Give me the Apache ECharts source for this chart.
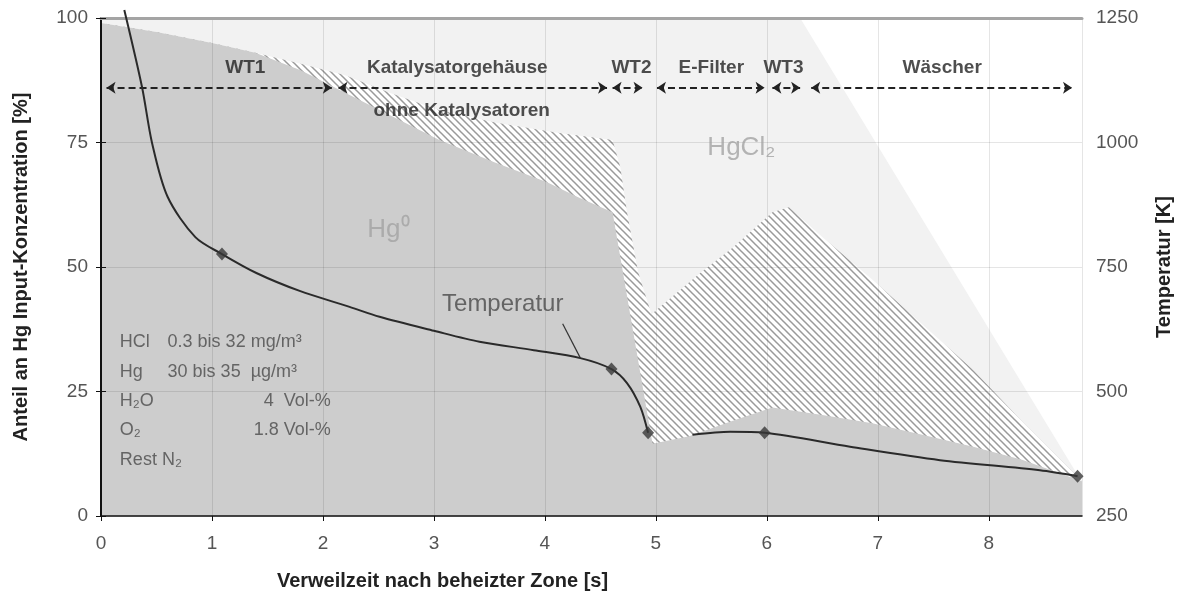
<!DOCTYPE html>
<html>
<head>
<meta charset="utf-8">
<script src="https://cdn.jsdelivr.net/npm/echarts@6/dist/echarts.min.js"></script>
<style>
  html, body { margin: 0; padding: 0; background: #ffffff; }
  #chart { width: 1185px; height: 606px; }
</style>
</head>
<body>
<div id="chart"></div>
<script>
// Mercury speciation along the flue gas path: residence time [s] vs. share of Hg input [%]
const hg0Top = [[0, 99], [0.5, 97.2], [1.0, 95], [1.39, 93], [1.8, 89.5], [2.2, 85], [2.6, 80.5],
  [3.05, 75.5], [3.55, 71], [4.02, 67], [4.3, 64], [4.61, 61], [4.97, 14.5], [5.3, 16], [5.7, 19.2],
  [6.05, 21.8], [6.5, 20.3], [6.95, 18.6], [7.4, 16.3], [7.86, 13.9], [8.3, 11.3], [8.84, 7]];
const hatchTop = [[0, 99], [0.5, 97.2], [1.0, 95], [1.39, 93], [1.8, 90.8], [2.2, 88.5], [2.6, 85],
  [3.05, 81.5], [3.55, 79], [4.1, 77], [4.61, 75.5], [4.68, 70], [4.74, 61], [4.84, 49], [4.96, 40.5],
  [5.4, 48.8], [5.7, 54], [6.05, 61], [6.2, 62], [6.5, 56], [6.95, 47.5], [7.4, 38.5], [7.86, 29.3],
  [8.3, 19], [8.84, 7]];
const hgcl2Top = [[0, 100], [6.3, 100], [8.78, 9], [8.84, 7]];

// Gas temperature [K]; '-' marks the interruption between WT2 and E-Filter
const tempCurve = [[0.21, 1266], [0.37, 1111], [0.46, 999], [0.6, 891], [0.85, 810], [1.09, 776],
  [1.4, 738], [1.79, 702], [2.24, 670], [2.51, 650], [3.0, 622], [3.41, 600], [3.9, 583], [4.32, 567],
  [4.6, 545], [4.74, 517], [4.86, 469], [4.93, 417], [5.1, '-'], [5.33, 413], [5.67, 419], [5.98, 417],
  [6.75, 389], [7.56, 362], [8.46, 342], [8.8, 330]];
const tempMarks = [[1.09, 776], [4.6, 545], [4.93, 417], [5.98, 417], [8.8, 330]];
const tempPointer = [[4.16, 636], [4.32, 567]];

// Plant sections along the residence time axis
const zoneNames = ['WT1', 'Katalysatorgehäuse', 'WT2', 'E-Filter', 'WT3', 'Wäscher'];
const zoneFrom = [0.05, 2.14, 4.61, 5.01, 6.05, 6.4];
const zoneTo = [2.08, 4.56, 4.88, 5.98, 6.3, 8.75];
const zoneLabelX = [1.3, 3.21, 4.78, 5.5, 6.15, 7.58];
const zoneNote = 'ohne Katalysatoren';

// Test gas composition
const infoNames = ['HCl', 'Hg', 'H₂O', 'O₂', 'Rest N₂'];
const infoValues = ['0.3 bis 32 mg/m³', '30 bis 35  µg/m³', '4  Vol-%', '1.8 Vol-%', ''];

const xTicks = [0, 1, 2, 3, 4, 5, 6, 7, 8];
const leftTicks = [0, 25, 50, 75, 100];
const rightTicks = [250, 500, 750, 1000, 1250];

const FONT = '"Liberation Sans", Arial, sans-serif';
const ARROW_Y = 86;

// Diagonal hatching used for the band between Hg0 and HgCl2
function hatchPattern() {
  const s = 7;
  const c = document.createElement('canvas');
  c.width = s; c.height = s;
  const g = c.getContext('2d');
  g.fillStyle = '#ffffff';
  g.fillRect(0, 0, s, s);
  g.strokeStyle = '#9a9a9a';
  g.lineWidth = 1.5;
  g.beginPath();
  g.moveTo(-1, -1); g.lineTo(s + 1, s + 1);
  g.moveTo(-1, s - 1); g.lineTo(1, s + 1);
  g.moveTo(s - 1, -1); g.lineTo(s + 1, 1);
  g.stroke();
  return c;
}

function textItem(x, y, text, style, position) {
  return {
    value: [x, y],
    label: Object.assign({
      show: true, formatter: text, position: position || 'inside', distance: 0,
      fontFamily: FONT
    }, style)
  };
}

const annotations = [];
zoneNames.forEach((n, i) => {
  annotations.push(textItem(zoneLabelX[i], 90, n, { fontSize: 19, fontWeight: 'bold', color: '#222' }));
});
annotations.push(textItem(3.25, 81.3, zoneNote, { fontSize: 19, fontWeight: 'bold', color: '#222' }));
annotations.push(textItem(2.59, 57.4, 'Hg⁰', { fontSize: 26, color: '#a3a3a3' }));
annotations.push(textItem(5.77, 73.9, 'HgCl₂', { fontSize: 26, color: '#a3a3a3' }));
annotations.push(textItem(3.62, 42.4, 'Temperatur', { fontSize: 24, color: '#4a4a4a' }));
const infoStyle = { fontSize: 18, color: '#4a4a4a' };
infoNames.forEach((n, i) => {
  const y = 34.9 - i * 5.9;
  annotations.push(textItem(0.17, y, n, infoStyle, 'right'));
  if (!infoValues[i]) return;
  if (i < 2) annotations.push(textItem(0.6, y, infoValues[i], infoStyle, 'right'));
  else annotations.push(textItem(2.07, y, infoValues[i], infoStyle, 'left'));
});

const axisText = { color: '#555', fontSize: 19, fontFamily: FONT };
const nameText = { color: '#222', fontSize: 20, fontWeight: 'bold', fontFamily: FONT };
const gridLine = { show: true, lineStyle: { color: 'rgba(0,0,0,0.10)', width: 1 } };

const chart = echarts.init(document.getElementById('chart'));
chart.setOption({
  animation: false,
  backgroundColor: '#ffffff',
  grid: { left: 101, right: 103, top: 18, bottom: 90 },
  xAxis: [{
    type: 'value', min: 0, max: 8.84, interval: 1, z: 3,
    axisLine: { lineStyle: { color: '#111', width: 1.5 } },
    axisTick: { length: 5, lineStyle: { color: '#111' } },
    axisLabel: Object.assign({ margin: 18, showMaxLabel: false,
      formatter: v => (xTicks.indexOf(v) >= 0 ? String(v) : '') }, axisText),
    splitLine: gridLine,
    name: 'Verweilzeit nach beheizter Zone [s]', nameLocation: 'middle', nameGap: 55,
    nameTextStyle: Object.assign({ padding: [0, 298, 0, 0] }, nameText)
  }, {
    type: 'value', position: 'top', min: 0, max: 8.84, z: 3,
    axisLine: { show: true, lineStyle: { color: '#a4a4a4', width: 3 } },
    axisTick: { show: false }, axisLabel: { show: false }, splitLine: { show: false }
  }],
  yAxis: [{
    type: 'value', min: 0, max: 100, interval: 25, z: 3,
    axisLine: { show: true, lineStyle: { color: '#111', width: 1.5 } },
    axisTick: { show: true, length: 5, lineStyle: { color: '#111' } },
    axisLabel: Object.assign({ margin: 13,
      formatter: v => (leftTicks.indexOf(v) >= 0 ? String(v) : '') }, axisText),
    splitLine: gridLine,
    name: 'Anteil an Hg Input-Konzentration [%]', nameLocation: 'middle', nameGap: 70,
    nameTextStyle: nameText
  }, {
    type: 'value', min: 250, max: 1250, interval: 250, position: 'right', z: 3,
    axisLine: { show: true, lineStyle: { color: '#111', width: 2 } },
    axisTick: { show: true, length: 5, lineStyle: { color: '#111' } },
    axisLabel: Object.assign({ margin: 14,
      formatter: v => (rightTicks.indexOf(v) >= 0 ? String(v) : '') }, axisText),
    splitLine: { show: false },
    name: 'Temperatur [K]', nameLocation: 'middle', nameGap: 72,
    nameTextStyle: nameText
  }],
  series: [{
    name: 'HgCl2', type: 'line', data: hgcl2Top, symbol: 'none', silent: true, z: 1,
    lineStyle: { width: 0 }, areaStyle: { color: '#f2f2f2', opacity: 1 }
  }, {
    name: 'Hg ads', type: 'line', data: hatchTop, symbol: 'none', silent: true, z: 1,
    lineStyle: { width: 0 }, areaStyle: { color: { image: hatchPattern(), repeat: 'repeat' }, opacity: 1 }
  }, {
    name: 'Hg0', type: 'line', data: hg0Top, symbol: 'none', silent: true, z: 1,
    lineStyle: { width: 0 }, areaStyle: { color: '#cdcdcd', opacity: 1 }
  }, {
    name: 'Temperatur', type: 'line', yAxisIndex: 1, data: tempCurve, smooth: 0.3,
    connectNulls: false, clip: false, symbol: 'none', z: 6,
    lineStyle: { color: '#2a2a2a', width: 2 }
  }, {
    name: 'Messpunkte', type: 'scatter', yAxisIndex: 1, data: tempMarks, clip: false, z: 7,
    symbol: 'diamond', symbolSize: [12, 13], itemStyle: { color: '#383838' }
  }, {
    name: 'Zeiger', type: 'line', yAxisIndex: 1, data: tempPointer, symbol: 'none', z: 6,
    lineStyle: { color: '#333', width: 1.2 }
  }, {
    name: 'Beschriftung', type: 'scatter', yAxisIndex: 0, data: annotations, symbolSize: 0,
    silent: true, z: 8,
    markLine: {
      silent: true, symbol: ['arrow', 'arrow'], symbolSize: 9,
      label: { show: false },
      lineStyle: { color: '#222', type: [7, 4], width: 2 },
      data: zoneFrom.map((f, i) => [{ coord: [f, ARROW_Y] }, { coord: [zoneTo[i], ARROW_Y] }])
    }
  }]
});
</script>
</body>
</html>
